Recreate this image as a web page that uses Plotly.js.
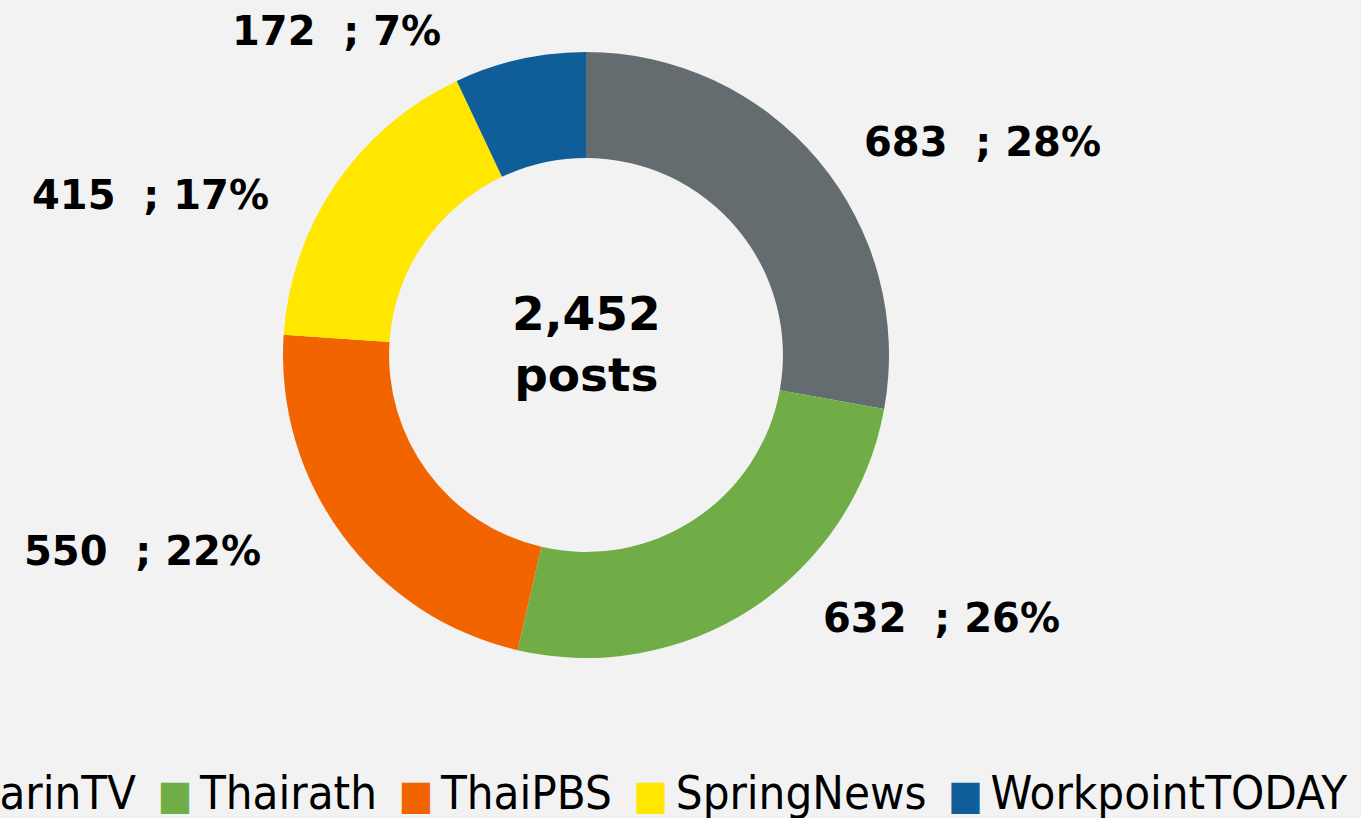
<!DOCTYPE html>
<html>
<head>
<meta charset="utf-8">
<script src="https://cdn.plot.ly/plotly-3.0.1.min.js"></script>
<style>
html,body{margin:0;padding:0;background:#f2f2f2;overflow:hidden;}
#chart{width:1361px;height:818px;}
</style>
</head>
<body>
<div id="chart"></div>
<script>
// ---- data ----
var channels = ["AmarinTV", "Thairath", "ThaiPBS", "SpringNews", "WorkpointTODAY"];
var posts = [683, 632, 550, 415, 172];
var colors = ["#656c6f", "#70ad47", "#f26400", "#ffe700", "#0f5e99"];
var centerUnit = "posts";

// ---- layout helpers (pixel positions of the outside labels) ----
var W = 1361, H = 818;
var labelPos = [[982, 142], [941, 618], [142, 551], [150, 195], [336, 31]];

var total = posts.reduce(function(a, b){ return a + b; }, 0);

var trace = {
  type: "pie",
  labels: channels,
  values: posts,
  sort: false,
  direction: "clockwise",
  rotation: 0,
  hole: 0.65,
  marker: {colors: colors, line: {width: 0}},
  textinfo: "none",
  hoverinfo: "label+value+percent",
  showlegend: false,
  domain: {x: [283 / W, 889 / W], y: [(H - 355 - 303) / H, (H - 355 + 303) / H]}
};

var annotations = [];
for (var i = 0; i < posts.length; i++) {
  var pct = Math.round(posts[i] / total * 100);
  annotations.push({
    xref: "paper", yref: "paper",
    x: labelPos[i][0] / W, y: 1 - labelPos[i][1] / H,
    xanchor: "center", yanchor: "middle",
    showarrow: false,
    text: posts[i] + "\u00a0\u00a0; " + pct + "%",
    font: {family: "DejaVu Sans", size: 40, color: "#000000", weight: "bold"}
  });
}

// centre text
annotations.push({
  xref: "paper", yref: "paper",
  x: 586 / W, y: 1 - 344 / H,
  xanchor: "center", yanchor: "middle",
  showarrow: false,
  text: "<b>" + total.toLocaleString("en-US") + "<br>" + centerUnit + "</b>",
  font: {family: "DejaVu Sans", size: 47, color: "#000000"}
});

// legend (drawn as one text line, right-anchored; left end runs off the page)
var legendParts = [];
for (var j = 0; j < channels.length; j++) {
  legendParts.push('<span style="color:' + colors[j] + ';font-size:41px">\u25A0</span>' +
                   '<span style="font-size:26px">\u00a0</span>' + channels[j]);
}
annotations.push({
  xref: "paper", yref: "paper",
  x: 1349 / W, y: 1 - 792 / H,
  xanchor: "right", yanchor: "middle",
  showarrow: false,
  text: legendParts.join('<span style="font-size:38px">\u00a0\u00a0</span>'),
  font: {family: "DejaVu Sans Condensed, DejaVu Sans", size: 47, color: "#000000"}
});

var layout = {
  width: W, height: H,
  margin: {l: 0, r: 0, t: 0, b: 0},
  paper_bgcolor: "#f2f2f2",
  plot_bgcolor: "#f2f2f2",
  showlegend: false,
  annotations: annotations
};

Plotly.newPlot("chart", [trace], layout, {displayModeBar: false, staticPlot: true});
</script>
</body>
</html>
